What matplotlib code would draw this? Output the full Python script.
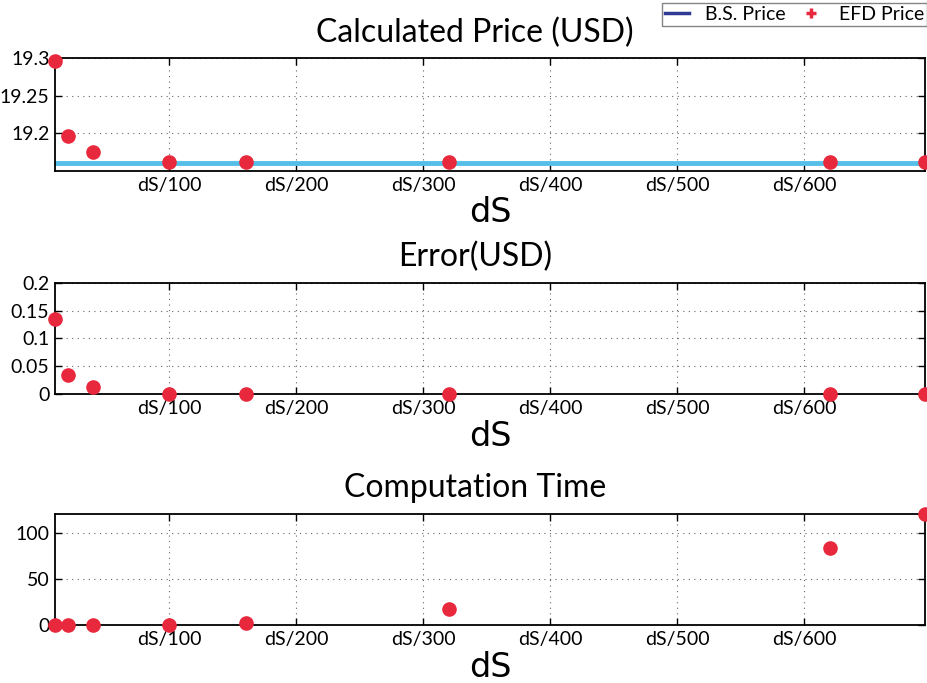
import matplotlib
matplotlib.use('Agg')
import matplotlib.pyplot as plt
from matplotlib.lines import Line2D

# grid sizes (x) and results
ds = [10, 20, 40, 100, 160, 320, 620, 695]
efd_price = [19.2966, 19.1960, 19.1747, 19.1620, 19.1618, 19.1616, 19.1614, 19.1614]
bs_price = 19.1613
err = [0.1353, 0.0346, 0.0136, 0.0007, 0.0005, 0.0003, 0.0001, 0.0001]
comp_time = [0.05, 0.1, 0.2, 0.4, 2.8, 17.3, 83.2, 120.0]

xticks = [100, 200, 300, 400, 500, 600]
xticklabels = ['dS/100', 'dS/200', 'dS/300', 'dS/400', 'dS/500', 'dS/600']

red = '#e8283c'
lblue = '#56bfe8'
dblue = '#2e3a93'
tickfont = ['Lato', 'DejaVu Sans']
titlefont = ['Lato', 'DejaVu Sans']

fig = plt.figure(figsize=(9.28, 6.83), dpi=100)
L, W = 0.0593, 0.9375
ax1 = fig.add_axes([L, 0.7496, W, 0.1650])
ax2 = fig.add_axes([L, 0.4227, W, 0.1634])
ax3 = fig.add_axes([L, 0.0845, W, 0.1629])


def style(ax, title, ylim, yticks, yticklabels):
    ax.set_xlim(ds[0], ds[-1])
    ax.set_ylim(*ylim)
    ax.set_xticks(xticks)
    ax.set_xticklabels(xticklabels, fontsize=14, family=tickfont)
    ax.set_yticks(yticks)
    ax.set_yticklabels(yticklabels, fontsize=14, family=tickfont)
    ax.tick_params(direction='in', top=True, right=True, length=5, width=1, pad=4)
    ax.grid(True, linestyle=(0, (1, 4)), color='#666666', linewidth=0.8)
    for s in ax.spines.values():
        s.set_linewidth(1.3)
    ax.set_title(title, fontsize=23, family=titlefont, pad=12, x=0.483)
    ax.set_xlabel('dS', fontsize=24, family=['DejaVu Sans'], labelpad=2)


style(ax1, 'Calculated Price (USD)', (19.15, 19.3), [19.2, 19.25, 19.3], ['19.2', '19.25', '19.3'])
ax1.axhline(bs_price, color=lblue, linewidth=3.5, zorder=2)
ax1.plot(ds, efd_price, 'o', color=red, markersize=9.5, clip_on=False, zorder=3)

style(ax2, 'Error(USD)', (0, 0.2), [0, 0.05, 0.1, 0.15, 0.2], ['0', '0.05', '0.1', '0.15', '0.2'])
ax2.plot(ds, err, 'o', color=red, markersize=9.5, clip_on=False, zorder=3)

style(ax3, 'Computation Time', (0, 120), [0, 50, 100], ['0', '50', '100'])
ax3.plot(ds, comp_time, 'o', color=red, markersize=9.5, clip_on=False, zorder=3)

handles = [Line2D([], [], color=dblue, linewidth=2.5),
           Line2D([], [], color=red, marker='+', linestyle='none', markersize=7, markeredgewidth=2.5)]
leg = fig.legend(handles, ['B.S. Price', 'EFD Price'], ncol=2, loc='upper right',
                 bbox_to_anchor=(0.999, 0.9956), fancybox=False, frameon=True,
                 prop={'family': titlefont, 'size': 14}, handlelength=1.25,
                 columnspacing=0.7, handletextpad=0.8, borderpad=0.15, borderaxespad=0)
leg.get_frame().set_edgecolor('#666666')
leg.get_frame().set_linewidth(1.0)

fig.savefig('out.png', dpi=100)
